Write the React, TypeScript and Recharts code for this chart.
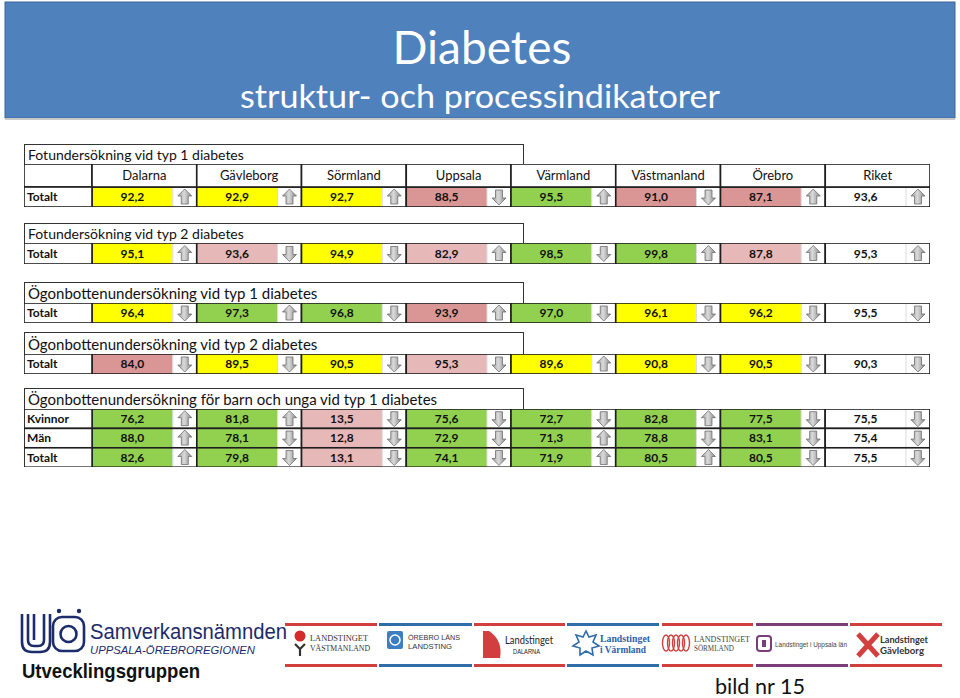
import React from "react";
import { ScatterChart, Scatter, XAxis, YAxis } from "recharts";

const regions = ["Dalarna", "Gävleborg", "Sörmland", "Uppsala", "Värmland", "Västmanland", "Örebro", "Riket"];

// nivå: g = grön, y = gul, r = röd, p = ljusröd, n = ingen färg (riket)
const fotTyp1Values = [92.2, 92.9, 92.7, 88.5, 95.5, 91.0, 87.1, 93.6];
const fotTyp1Trend = ["up", "up", "up", "down", "up", "down", "up", "up"];
const fotTyp1Level = ["y", "y", "y", "r", "g", "r", "r", "n"];

const fotTyp2Values = [95.1, 93.6, 94.9, 82.9, 98.5, 99.8, 87.8, 95.3];
const fotTyp2Trend = ["up", "down", "down", "up", "down", "up", "up", "up"];
const fotTyp2Level = ["y", "p", "y", "p", "g", "g", "p", "n"];

const ogonTyp1Values = [96.4, 97.3, 96.8, 93.9, 97.0, 96.1, 96.2, 95.5];
const ogonTyp1Trend = ["down", "up", "down", "up", "down", "down", "down", "down"];
const ogonTyp1Level = ["y", "g", "g", "r", "g", "y", "y", "n"];

const ogonTyp2Values = [84.0, 89.5, 90.5, 95.3, 89.6, 90.8, 90.5, 90.3];
const ogonTyp2Trend = ["down", "down", "down", "down", "up", "down", "down", "down"];
const ogonTyp2Level = ["r", "y", "y", "p", "y", "y", "y", "n"];

const barnKvinnorValues = [76.2, 81.8, 13.5, 75.6, 72.7, 82.8, 77.5, 75.5];
const barnKvinnorTrend = ["up", "up", "down", "down", "down", "up", "down", "down"];
const barnManValues = [88.0, 78.1, 12.8, 72.9, 71.3, 78.8, 83.1, 75.4];
const barnManTrend = ["up", "down", "down", "down", "up", "down", "down", "down"];
const barnTotaltValues = [82.6, 79.8, 13.1, 74.1, 71.9, 80.5, 80.5, 75.5];
const barnTotaltTrend = ["up", "down", "down", "down", "up", "up", "down", "down"];
const barnLevel = ["g", "g", "p", "g", "g", "g", "g", "n"];

const sectionTitles = [
  "Fotundersökning vid typ 1 diabetes",
  "Fotundersökning vid typ 2 diabetes",
  "Ögonbottenundersökning vid typ 1 diabetes",
  "Ögonbottenundersökning vid typ 2 diabetes",
  "Ögonbottenundersökning för barn och unga vid typ 1 diabetes",
];

const levelColor: Record<string, string> = {
  g: "#92D050",
  y: "#FFFF00",
  r: "#DA9694",
  p: "#E6B8B7",
  n: "#FFFFFF",
};

const buildRow = (row: string, values: number[], trend: string[], level: string[]) =>
  regions.map((region, i) => ({ region, row, value: values[i], trend: trend[i], level: level[i] }));

const sectionData = [
  buildRow("Totalt", fotTyp1Values, fotTyp1Trend, fotTyp1Level),
  buildRow("Totalt", fotTyp2Values, fotTyp2Trend, fotTyp2Level),
  buildRow("Totalt", ogonTyp1Values, ogonTyp1Trend, ogonTyp1Level),
  buildRow("Totalt", ogonTyp2Values, ogonTyp2Trend, ogonTyp2Level),
  [
    ...buildRow("Kvinnor", barnKvinnorValues, barnKvinnorTrend, barnLevel),
    ...buildRow("Män", barnManValues, barnManTrend, barnLevel),
    ...buildRow("Totalt", barnTotaltValues, barnTotaltTrend, barnLevel),
  ],
];

// layout (px)
const TABLE_LEFT = 24;
const TABLE_W = 906;
const LABEL_W = 68;
const COL_W = (TABLE_W - LABEL_W) / regions.length;
const ARROW_W = 24;
const HEADER_H = 23;
const BORDER = "#1e1e1e";

const sectionLayout = [
  { titleTop: 144, titleH: 20, top: 164, rowH: 20, rows: 1, header: true, titleSize: 14 },
  { titleTop: 223, titleH: 20, top: 243, rowH: 21, rows: 1, header: false, titleSize: 14 },
  { titleTop: 282, titleH: 21, top: 303, rowH: 20, rows: 1, header: false, titleSize: 15 },
  { titleTop: 332, titleH: 22, top: 354, rowH: 20, rows: 1, header: false, titleSize: 15 },
  { titleTop: 388, titleH: 21, top: 409, rowH: 19.4, rows: 3, header: false, titleSize: 15 },
];

const fmt = (v: number) => v.toFixed(1).replace(".", ",");

function Arrow({ cx, cy, dir }: { cx: number; cy: number; dir: string }) {
  const s = dir === "up" ? -1 : 1;
  const pts = [
    [0, 8 * s],
    [7, 1 * s],
    [3.5, 1 * s],
    [3.5, -7 * s],
    [-3.5, -7 * s],
    [-3.5, 1 * s],
    [-7, 1 * s],
  ]
    .map(([dx, dy]) => `${cx + dx},${cy + dy}`)
    .join(" ");
  return <polygon points={pts} fill="url(#arrowGrad)" stroke="#6e6e6e" strokeWidth={0.8} />;
}

function CellShape(props: any) {
  const { cx, cy, payload, rowH } = props;
  if (cx == null || cy == null) return null;
  const x0 = cx - COL_W / 2;
  const y0 = cy - rowH / 2;
  const vw = COL_W - ARROW_W;
  return (
    <g>
      <rect x={x0} y={y0} width={vw} height={rowH} fill={levelColor[payload.level]} />
      <rect x={x0 + vw} y={y0} width={ARROW_W} height={rowH} fill="#ffffff" />
      <line x1={x0 + vw} x2={x0 + vw} y1={y0} y2={y0 + rowH} stroke="#dcdcdc" />
      <rect x={x0} y={y0} width={COL_W} height={rowH} fill="none" stroke={BORDER} strokeWidth={1.6} />
      <text
        x={x0 + vw / 2}
        y={cy}
        dy="0.36em"
        textAnchor="middle"
        fontFamily="Lato"
        fontWeight={700}
        fontSize={12}
        fill="#111"
      >
        {fmt(payload.value)}
      </text>
      <Arrow cx={x0 + vw + ARROW_W / 2} cy={cy} dir={payload.trend} />
    </g>
  );
}

function RowTick(props: any) {
  const { x, y, payload, rowH } = props;
  const x0 = x - LABEL_W;
  return (
    <g>
      <rect x={x0} y={y - rowH / 2} width={LABEL_W} height={rowH} fill="#fff" stroke={BORDER} strokeWidth={1.6} />
      <text x={x0 + 3} y={y} dy="0.36em" fontFamily="Lato" fontWeight={700} fontSize={12} fill="#111">
        {payload.value}
      </text>
    </g>
  );
}

function HeaderTick(props: any) {
  const { x, y, payload, index } = props;
  const x0 = x - COL_W / 2;
  return (
    <g>
      {index === 0 && (
        <rect x={x0 - LABEL_W} y={y - HEADER_H} width={LABEL_W} height={HEADER_H} fill="#fff" stroke={BORDER} strokeWidth={1.6} />
      )}
      <rect x={x0} y={y - HEADER_H} width={COL_W} height={HEADER_H} fill="#fff" stroke={BORDER} strokeWidth={1.6} />
      <text x={x} y={y - HEADER_H / 2} dy="0.36em" textAnchor="middle" fontFamily="Lato" fontSize={13} fill="#111">
        {payload.value}
      </text>
    </g>
  );
}

function Section({ idx }: { idx: number }) {
  const l = sectionLayout[idx];
  const height = l.rowH * l.rows + (l.header ? HEADER_H : 0);
  return (
    <>
      <div
        style={{
          position: "absolute",
          left: TABLE_LEFT,
          top: l.titleTop,
          width: 500,
          height: l.titleH + 1,
          boxSizing: "border-box",
          border: "1.5px solid #333",
          borderBottom: "none",
          background: "#fff",
          fontFamily: "Lato",
          fontSize: l.titleSize,
          lineHeight: `${l.titleH}px`,
          paddingLeft: 3,
          color: "#111",
          whiteSpace: "nowrap",
        }}
      >
        {sectionTitles[idx]}
      </div>
      <div style={{ position: "absolute", left: TABLE_LEFT, top: l.top }}>
        <ScatterChart width={TABLE_W} height={height} margin={{ top: 0, right: 0, bottom: 0, left: 0 }}>
          <XAxis
            type="category"
            dataKey="region"
            allowDuplicatedCategory={false}
            orientation="top"
            hide={!l.header}
            height={HEADER_H}
            axisLine={false}
            tickLine={false}
            tickSize={0}
            tickMargin={0}
            interval={0}
            tick={<HeaderTick />}
          />
          <YAxis
            type="category"
            dataKey="row"
            allowDuplicatedCategory={false}
            width={LABEL_W}
            reversed
            axisLine={false}
            tickLine={false}
            tickSize={0}
            tickMargin={0}
            interval={0}
            tick={<RowTick rowH={l.rowH} />}
          />
          <Scatter
            data={sectionData[idx]}
            isAnimationActive={false}
            shape={(p: any) => <CellShape {...p} rowH={l.rowH} />}
          />
        </ScatterChart>
      </div>
    </>
  );
}

const stripSegments = [
  { x1: 285, x2: 377, c: "#D1403E" },
  { x1: 379, x2: 472, c: "#2F6CA8" },
  { x1: 474, x2: 565, c: "#D1403E" },
  { x1: 567, x2: 659, c: "#2F6CA8" },
  { x1: 662, x2: 753, c: "#D1403E" },
  { x1: 756, x2: 848, c: "#7A3D78" },
  { x1: 850, x2: 942, c: "#D1403E" },
];

function Footer() {
  const navy = "#1c2b6b";
  return (
    <svg style={{ position: "absolute", left: 0, top: 600 }} width={960} height={98}>
      {/* UO logo */}
      <g fill="none" stroke={navy} strokeWidth={2.6}>
        <path d="M22 14 V42 Q22 52 32 52 H40 Q50 52 50 42 V14" />
        <path d="M28 14 V40 Q28 46 34 46 H38 Q44 46 44 40 V14" />
        <path d="M34 14 V40" />
        <rect x={53} y={17} width={31} height={34} rx={9} />
        <circle cx={68.5} cy={34} r={8} />
      </g>
      <circle cx={59} cy={11} r={2.2} fill={navy} />
      <circle cx={79} cy={11} r={2.2} fill={navy} />
      <text x={90} y={39} fontFamily="Liberation Sans" fontSize={22} fill={navy} textLength={197} lengthAdjust="spacingAndGlyphs">
        Samverkansnämnden
      </text>
      <text x={90} y={54} fontFamily="Liberation Sans" fontStyle="italic" fontSize={10.5} fill={navy} textLength={165} lengthAdjust="spacingAndGlyphs">
        UPPSALA-ÖREBROREGIONEN
      </text>
      <text x={22} y={78} fontFamily="Liberation Sans" fontWeight={700} fontSize={21} fill="#111" textLength={178} lengthAdjust="spacingAndGlyphs">
        Utvecklingsgruppen
      </text>

      {stripSegments.map((s, i) => (
        <g key={i}>
          <rect x={s.x1} y={23} width={s.x2 - s.x1} height={3} fill={s.c} />
          <rect x={s.x1} y={64} width={s.x2 - s.x1} height={3} fill={s.c} />
        </g>
      ))}

      {/* Västmanland */}
      <circle cx={300} cy={36} r={5.5} fill="#D42B2B" />
      <path d="M295 44 L300 49 L305 44 M300 49 V56" stroke="#333" strokeWidth={2.2} fill="none" />
      <text x={310} y={41} fontFamily="Liberation Serif" fontSize={8} fill="#333" textLength={58} lengthAdjust="spacingAndGlyphs">LANDSTINGET</text>
      <text x={310} y={51} fontFamily="Liberation Serif" fontSize={8} fill="#333" textLength={60} lengthAdjust="spacingAndGlyphs">VÄSTMANLAND</text>

      {/* Örebro */}
      <rect x={387} y={31} width={16} height={18} rx={2} fill="#3D7DC2" />
      <circle cx={395} cy={40} r={5} fill="none" stroke="#fff" strokeWidth={1.5} />
      <text x={408} y={40} fontFamily="Liberation Sans" fontSize={8} fill="#333" textLength={52} lengthAdjust="spacingAndGlyphs">ÖREBRO LÄNS</text>
      <text x={408} y={49} fontFamily="Liberation Sans" fontSize={8} fill="#333" textLength={44} lengthAdjust="spacingAndGlyphs">LANDSTING</text>

      {/* Dalarna */}
      <path d="M483 31 H489 Q503 40 500 58 H483 Z" fill="#D1403E" />
      <text x={505} y={44} fontFamily="Lato" fontSize={11} fill="#222" textLength={48} lengthAdjust="spacingAndGlyphs">Landstinget</text>
      <text x={513} y={54} fontFamily="Liberation Sans" fontSize={6.5} fill="#222" textLength={27} lengthAdjust="spacingAndGlyphs">DALARNA</text>

      {/* Värmland */}
      <polygon
        points="586,31 589,37 596,35 593,42 599,46 592,48 593,55 586,51 580,55 580,48 573,46 579,42 576,35 583,37"
        fill="none"
        stroke="#2F6CA8"
        strokeWidth={1.6}
      />
      <text x={600} y={42} fontFamily="Liberation Serif" fontWeight={700} fontSize={10.5} fill="#2F5FA8" textLength={50} lengthAdjust="spacingAndGlyphs">Landstinget</text>
      <text x={600} y={53} fontFamily="Liberation Serif" fontWeight={700} fontSize={10.5} fill="#2F5FA8" textLength={46} lengthAdjust="spacingAndGlyphs">i Värmland</text>

      {/* Sörmland */}
      <g fill="none" stroke="#D1403E" strokeWidth={1.4}>
        {[666, 671, 676, 681, 686].map((cx) => (
          <ellipse key={cx} cx={cx} cy={43} rx={3.5} ry={8} />
        ))}
      </g>
      <text x={694} y={42} fontFamily="Liberation Serif" fontSize={8} fill="#444" textLength={56} lengthAdjust="spacingAndGlyphs">LANDSTINGET</text>
      <text x={694} y={51} fontFamily="Liberation Serif" fontSize={8} fill="#444" textLength={40} lengthAdjust="spacingAndGlyphs">SÖRMLAND</text>

      {/* Uppsala */}
      <rect x={757} y={36} width={14} height={15} rx={3} fill="none" stroke="#7A3D78" strokeWidth={2} />
      <rect x={762} y={40} width={4} height={7} fill="#7A3D78" />
      <text x={775} y={47} fontFamily="Liberation Sans" fontSize={8} fill="#444" textLength={72} lengthAdjust="spacingAndGlyphs">Landstinget i Uppsala län</text>

      {/* Gävleborg */}
      <path d="M858 34 L878 56 M858 56 L878 34" stroke="#D1403E" strokeWidth={5} />
      <text x={880} y={43} fontFamily="Lato" fontWeight={700} fontSize={10} fill="#333" textLength={48} lengthAdjust="spacingAndGlyphs">Landstinget</text>
      <text x={880} y={54} fontFamily="Lato" fontWeight={700} fontSize={10} fill="#333" textLength={44} lengthAdjust="spacingAndGlyphs">Gävleborg</text>

      <text x={715} y={94} fontFamily="Lato" fontSize={21} fill="#111" textLength={90} lengthAdjust="spacingAndGlyphs">
        bild nr 15
      </text>
    </svg>
  );
}

export default function App() {
  return (
    <div style={{ position: "absolute", left: 0, top: 0, width: 960, height: 698, background: "#fff", overflow: "hidden" }}>
      <svg width={0} height={0} style={{ position: "absolute" }}>
        <defs>
          <linearGradient id="arrowGrad" x1="0" x2="1" y1="0" y2="0">
            <stop offset="0%" stopColor="#9a9a9a" />
            <stop offset="45%" stopColor="#dadada" />
            <stop offset="100%" stopColor="#888888" />
          </linearGradient>
        </defs>
      </svg>

      <svg style={{ position: "absolute", left: 0, top: 0 }} width={960} height={124}>
        <rect x={5} y={2} width={950} height={116} fill="#4F81BD" stroke="#3A6496" strokeWidth={1} />
        <rect x={5} y={118} width={950} height={2} fill="#c9c9c9" />
        <text x={482} y={64} textAnchor="middle" fontFamily="Lato" fontSize={46} fill="#fff">
          Diabetes
        </text>
        <text x={240} y={108} fontFamily="Lato" fontSize={32} fill="#fff" textLength={480} lengthAdjust="spacingAndGlyphs">
          struktur- och processindikatorer
        </text>
      </svg>

      {sectionLayout.map((_, i) => (
        <Section key={i} idx={i} />
      ))}

      <Footer />
    </div>
  );
}
